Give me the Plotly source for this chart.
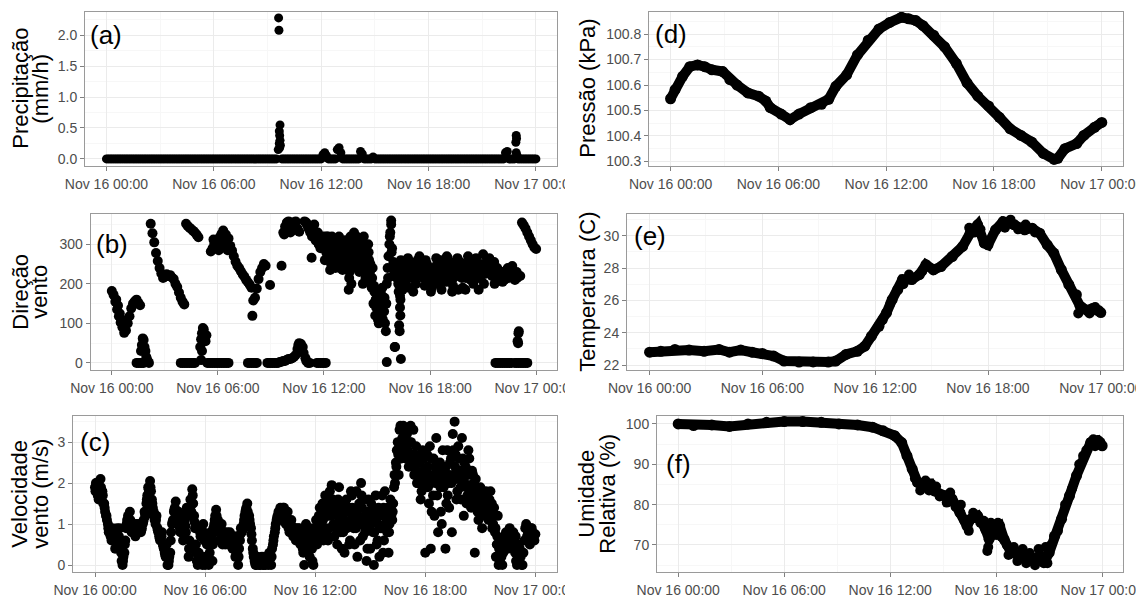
import numpy as np
import pandas as pd
import plotly.graph_objects as go

# ---------------- data ----------------
T0 = pd.Timestamp("2015-11-16 00:00")

# sampling grids (hours after Nov 16 00:00)
grid_a = np.round(np.arange(0.0, 24.0001, 0.1), 3)     # 241 samples
grid_b = np.round(np.arange(0.05, 23.96, 0.1), 3)      # 240 samples
grid_c0 = np.round(np.arange(0.025, 10.95, 0.1), 3)    # 110 samples
grid_c = np.round(np.arange(11.025, 22.95, 0.1), 3)    # 120 samples

# (a) precipitation (mm/h) on grid_a
a_rain = [
    0, 0, 0, 0, 0, 0, 0, 0, 0, 0,
    0, 0, 0, 0, 0, 0, 0, 0, 0, 0,
    0, 0, 0, 0, 0, 0, 0, 0, 0, 0,
    0, 0, 0, 0, 0, 0, 0, 0, 0, 0,
    0, 0, 0, 0, 0, 0, 0, 0, 0, 0,
    0, 0, 0, 0, 0, 0, 0, 0, 0, 0,
    0, 0, 0, 0, 0, 0, 0, 0, 0, 0,
    0, 0, 0, 0, 0, 0, 0, 0, 0, 0,
    0, 0, 0, 0, 0, 0, 0, 0, 0, 0,
    0, 0, 0, 0, 0, 0, 0.15, 0.55, 0, 0,
    0, 0, 0, 0, 0, 0, 0, 0, 0, 0,
    0, 0, 0, 0, 0, 0, 0, 0, 0, 0,
    0, 0.07, 0.1, 0.05, 0, 0, 0, 0, 0, 0.15,
    0.18, 0.1, 0, 0, 0, 0, 0, 0, 0, 0,
    0, 0, 0.12, 0.08, 0, 0, 0, 0, 0, 0.03,
    0, 0, 0, 0, 0, 0, 0, 0, 0, 0,
    0, 0, 0, 0, 0, 0, 0, 0, 0, 0,
    0, 0, 0, 0, 0, 0, 0, 0, 0, 0,
    0, 0, 0, 0, 0, 0, 0, 0, 0, 0,
    0, 0, 0, 0, 0, 0, 0, 0, 0, 0,
    0, 0, 0, 0, 0, 0, 0, 0, 0, 0,
    0, 0, 0, 0, 0, 0, 0, 0, 0, 0,
    0, 0, 0, 0.1, 0.12, 0, 0, 0, 0, 0.38,
    0, 0, 0, 0, 0, 0, 0, 0, 0, 0,
    0,
]
a_spike_hours = [9.62, 9.64, 9.66, 9.68, 9.70, 9.72, 9.66, 9.68, 22.88, 22.92, 22.95, 22.90]
a_spike_rain = [2.28, 2.08, 0.45, 0.38, 0.30, 0.22, 0.25, 0.18, 0.27, 0.33, 0.05, 0.10]

# (b) wind direction (degrees) on grid_a
b_dir = [
    182, 172, 155, 135, 118, 102, 90, 76, 82, 100,
    118, 138, 150, 156, 160, 152, 146, 45, 58, 30,
    8, 0, 352, 328, 305, 278, 258, 240, 226, 215,
    218, 224, 220, 222, 216, 212, 200, 192, 178, 165,
    155, 148, 352, 346, 342, 338, 334, 330, 324, 318,
    40, 75, 85, 55, 0, 0, 282, 290, 302, 310,
    305, 318, 326, 335, 312, 300, 315, 296, 284, 270,
    256, 246, 240, 232, 224, 218, 210, 204, 198, 190,
    158, 165, 188, 212, 230, 240, 250, 246, 0, 0,
    0, 0, 0, 0, 0, 2, 3, 330, 345, 355,
    358, 355, 350, 355, 358, 340, 332, 48, 40, 358,
    355, 345, 335, 330, 340, 320, 310, 300, 290, 305,
    320, 290, 270, 300, 250, 290, 310, 260, 295, 240,
    300, 270, 310, 250, 185, 320, 280, 330, 250, 300,
    230, 310, 200, 280, 250, 300, 230, 190, 150, 120,
    170, 100, 140, 190, 130, 80, 240, 300, 350, 220,
    40, 250, 200, 140, 220, 250, 205, 240, 190, 255,
    215, 245, 200, 260, 270, 220, 245, 195, 235, 210,
    240, 190, 225, 200, 250, 215, 260, 205, 245, 220,
    265, 210, 250, 195, 240, 225, 185, 255, 215, 245,
    185, 230, 260, 210, 245, 225, 265, 215, 250, 230,
    275, 225, 255, 235, 250, 220, 245, 230, 240, 210,
    215, 205, 210, 220, 240, 235, 225, 215, 210, 230,
    75, 220, 355, 348, 340, 330, 320, 310, 300, 292,
    288,
]
# (b) denser part of the cloud, 11:00-23:00 on grid_c
b_dir_fill = [
    350, 340, 330, 320, 335, 310, 325, 300, 310, 295,
    305, 280, 320, 265, 300, 275, 290, 250, 310, 270,
    280, 255, 300, 270, 215, 295, 260, 310, 275, 240,
    290, 255, 265, 300, 235, 280, 250, 215, 195, 160,
    140, 125, 175, 110, 165, 150, 215, 320, 280, 255,
    230, 215, 180, 160, 235, 215, 225, 255, 215, 230,
    230, 220, 250, 235, 240, 245, 215, 220, 250, 225,
    205, 215, 240, 225, 230, 240, 235, 225, 230, 205,
    240, 230, 225, 215, 255, 240, 220, 230, 240, 225,
    215, 245, 235, 225, 230, 250, 240, 230, 215, 240,
    250, 240, 230, 250, 235, 230, 255, 240, 220, 225,
    225, 215, 230, 235, 225, 220, 235, 230, 220, 215,
]
b_extra_hours = [
    0.25, 0.35, 0.45, 0.55, 1.4, 1.5, 1.6, 1.7, 1.8, 1.65,
    1.75, 1.85, 1.95, 2.05, 3.9, 4.0, 4.1, 4.2, 4.3, 4.4,
    4.5, 4.6, 4.7, 5.05, 5.05, 5.15, 5.25, 5.35, 5.1, 5.6,
    5.7, 5.8, 5.9, 6.0, 6.1, 6.2, 6.3, 6.4, 6.5, 6.6,
    5.75, 6.05, 6.25, 6.45, 6.55, 7.95, 8.95, 9.6, 7.7, 7.8,
    7.9, 8.0, 8.1, 8.2, 9.7, 9.8, 9.9, 10.0, 10.1, 10.2,
    10.3, 10.4, 10.5, 10.55, 10.6, 10.65, 10.85, 10.95, 11.0, 11.1,
    11.2, 11.6, 11.7, 11.8, 11.9, 12.0, 12.1, 9.75, 10.1, 10.25,
    11.3, 11.45, 11.65, 11.85, 12.05, 12.15, 12.35, 12.45, 12.65, 12.85,
    13.05, 13.25, 13.45, 13.55, 13.65, 13.85, 14.05, 14.15, 14.25, 14.35,
    14.45, 14.55, 14.65, 14.75, 14.85, 14.95, 15.05, 15.15, 15.25, 15.35,
    15.45, 15.55, 15.65, 15.75, 15.8, 15.85, 15.95, 16.05, 16.25, 16.28,
    16.3, 16.32, 16.35, 16.35, 15.55, 16.02, 16.45, 16.75, 17.05, 17.45,
    17.75, 18.05, 18.35, 18.65, 18.95, 19.25, 19.55, 19.85, 20.15, 20.45,
    20.75, 21.05, 21.35, 21.65, 21.95, 22.15, 22.45, 22.65, 21.7, 21.8,
    21.9, 22.0, 22.1, 22.2, 22.3, 22.4, 22.5, 22.6, 22.8, 22.9,
    23.0, 23.1, 23.2, 23.3, 23.4, 23.5, 22.98, 23.02, 22.95,
]
b_extra_dir = [
    160, 145, 125, 110, 0, 0, 0, 0, 0, 30,
    62, 40, 15, 3, 0, 0, 0, 0, 0, 0,
    0, 0, 0, 7, 60, 88, 65, 70, 30, 0,
    0, 0, 0, 0, 0, 0, 0, 0, 0, 0,
    312, 285, 300, 325, 285, 119, 197, 246, 0, 0,
    0, 0, 0, 0, 5, 5, 8, 10, 10, 12,
    15, 20, 35, 45, 50, 46, 25, 12, 5, 0,
    0, 0, 0, 0, 0, 0, 0, 325, 330, 335,
    266, 350, 330, 320, 260, 320, 235, 320, 240, 320,
    235, 290, 230, 200, 240, 320, 270, 240, 320, 215,
    270, 260, 200, 240, 180, 140, 110, 160, 120, 150,
    100, 200, 270, 330, 360, 290, 240, 230, 95, 80,
    170, 120, 10, 260, 2, 40, 185, 265, 180, 250,
    260, 180, 265, 185, 270, 180, 265, 190, 270, 200,
    185, 200, 265, 200, 230, 230, 215, 245, 0, 0,
    0, 0, 0, 0, 0, 0, 0, 0, 0, 0,
    0, 0, 0, 0, 0, 0, 50, 80, 55,
]

# (c) wind speed (m/s) on grid_a, grid_b, grid_c0 and grid_c
c_speed = [
    1.9, 2.0, 1.6, 2.1, 1.8, 1.5, 1.2, 1.0, 0.9, 0.6,
    0.8, 0.4, 0.9, 0.7, 0.5, 0.0, 0.3, 0.9, 1.2, 1.3,
    0.8, 1.0, 0.7, 0.9, 1.0, 0.8, 1.0, 1.3, 1.5, 1.9,
    2.05, 1.6, 1.3, 1.0, 0.9, 0.7, 0.6, 0.5, 0.3, 0.5,
    0.0, 0.3, 1.0, 1.3, 1.55, 1.2, 1.0, 0.9, 0.6, 1.1,
    1.4, 0.2, 1.6, 1.85, 1.2, 0.5, 0.0, 0.9, 0.2, 1.0,
    0.0, 0.5, 0.0, 0.8, 0.1, 1.0, 1.35, 1.1, 0.8, 1.0,
    0.7, 0.5, 0.8, 0.6, 0.7, 0.4, 0.7, 0.3, 0.0, 0.6,
    0.8, 1.0, 1.3, 1.5, 1.2, 0.9, 0.4, 0.1, 0.0, 0.1,
    0.0, 0.2, 0.0, 0.0, 0.1, 0.3, 0.0, 0.5, 0.8, 1.1,
    1.3, 1.4, 1.2, 1.4, 1.0, 1.3, 0.8, 1.1, 0.7, 0.9,
    0.6, 0.8, 0.5, 0.8, 0.0, 1.0, 0.6, 0.2, 0.8, 0.0,
    0.9, 0.5, 1.2, 0.7, 1.5, 0.9, 1.3, 0.6, 1.8, 1.95,
    1.0, 1.5, 0.5, 1.9, 0.8, 1.2, 0.3, 1.6, 1.0, 0.6,
    1.7, 0.9, 1.3, 0.2, 1.5, 2.0, 0.7, 1.2, 0.1, 1.6,
    0.4, 1.1, 0.0, 1.7, 0.6, 0.2, 1.3, 0.3, 1.8, 1.1,
    0.3, 1.6, 1.1, 1.9, 2.5, 3.0, 3.3, 2.6, 3.4, 2.9,
    3.2, 2.4, 3.4, 2.7, 2.2, 2.9, 2.0, 2.5, 1.8, 2.3,
    0.3, 2.7, 1.5, 0.4, 2.2, 1.2, 3.1, 0.8, 2.5, 1.0,
    1.9, 0.4, 2.8, 1.4, 2.6, 3.2, 3.5, 1.6, 2.9, 2.1,
    3.1, 1.2, 2.4, 1.7, 2.6, 1.4, 2.2, 0.3, 1.8, 1.1,
    1.9, 0.9, 1.6, 1.8, 1.4, 1.6, 1.3, 1.0, 0.8, 0.5,
    0.0, 0.3, 0.0, 0.6, 0.8, 0.4, 0.9, 0.6, 0.8, 0.3,
    0.0, 0.5, 0.2, 0.0, 0.6, 1.0, 0.8, 0.5, 0.9, 0.7,
    0.75,
]
c_speed_b = [
    2.0, 1.7, 1.9, 1.6, 1.5, 1.3, 1.1, 0.8, 0.7, 0.9,
    0.6, 0.8, 0.5, 0.9, 0.1, 0.2, 0.6, 1.1, 0.9, 1.0,
    0.9, 0.8, 1.0, 0.8, 0.9, 0.9, 1.1, 1.2, 1.7, 1.8,
    1.8, 1.4, 1.1, 1.2, 0.8, 0.6, 0.8, 0.4, 0.2, 0.0,
    0.2, 0.8, 1.1, 1.4, 1.1, 1.3, 0.8, 1.2, 0.9, 0.8,
    1.2, 0.6, 1.3, 1.5, 0.9, 0.1, 0.3, 0.7, 0.0, 0.6,
    0.2, 0.7, 0.3, 0.6, 0.9, 1.2, 1.0, 0.6, 0.9, 0.5,
    0.8, 0.6, 0.5, 0.8, 0.5, 0.6, 0.2, 0.5, 0.4, 0.9,
    0.9, 1.2, 1.4, 1.1, 1.0, 0.6, 0.2, 0.0, 0.2, 0.0,
    0.1, 0.0, 0.2, 0.1, 0.0, 0.2, 0.4, 0.7, 1.0, 1.2,
    1.2, 1.1, 1.4, 1.2, 1.1, 0.9, 1.0, 0.8, 0.9, 0.6,
    0.9, 0.6, 0.7, 0.3, 0.6, 0.8, 0.4, 0.6, 0.1, 0.5,
    1.1, 0.7, 1.4, 1.0, 0.6, 1.7, 1.2, 0.9, 1.4, 1.6,
    0.7, 1.3, 1.6, 1.1, 0.4, 1.5, 1.0, 1.3, 0.5, 1.8,
    1.2, 0.5, 1.8, 1.0, 0.6, 1.4, 1.6, 0.9, 0.4, 1.2,
    1.5, 0.8, 1.2, 0.5, 1.4, 0.9, 1.7, 0.6, 1.0, 1.4,
    1.0, 1.2, 1.5, 2.0, 2.8, 2.2, 3.4, 3.1, 2.7, 3.3,
    2.8, 3.0, 2.6, 3.3, 2.5, 2.0, 2.6, 1.6, 2.8, 2.0,
    2.3, 1.9, 2.9, 1.3, 2.6, 2.0, 1.7, 2.4, 1.3, 2.8,
    2.3, 1.5, 2.0, 2.5, 0.8, 2.2, 2.7, 1.8, 2.3, 1.6,
    2.6, 2.0, 1.5, 2.8, 1.9, 2.3, 1.6, 2.1, 1.3, 1.5,
    1.3, 1.7, 1.2, 1.5, 1.1, 1.8, 0.9, 1.4, 0.2, 1.2,
    0.1, 0.2, 0.3, 0.4, 0.6, 0.7, 0.5, 0.4, 0.6, 0.1,
    0.2, 0.4, 0.0, 0.3, 0.9, 0.7, 0.6, 0.9, 0.8, 0.6,
]
c_speed_c0 = [
    1.8, 1.9, 1.8, 1.9, 1.7, 1.4, 1.2, 0.9, 0.8, 0.8,
    0.7, 0.6, 0.7, 0.6, 0.3, 0.1, 0.5, 1.0, 1.1, 1.1,
    0.9, 0.9, 0.85, 0.9, 0.95, 0.85, 1.05, 1.25, 1.6, 1.85,
    1.9, 1.5, 1.2, 1.1, 0.85, 0.65, 0.7, 0.45, 0.25, 0.25,
    0.1, 0.6, 1.05, 1.35, 1.3, 1.25, 0.9, 1.0, 0.75, 0.95,
    1.3, 0.4, 1.45, 1.7, 1.05, 0.3, 0.15, 0.8, 0.1, 0.8,
    0.1, 0.6, 0.15, 0.7, 0.5, 1.1, 1.2, 0.8, 0.85, 0.75,
    0.75, 0.55, 0.65, 0.7, 0.6, 0.5, 0.45, 0.4, 0.2, 0.75,
    0.85, 1.1, 1.35, 1.3, 1.1, 0.75, 0.3, 0.05, 0.1, 0.05,
    0.05, 0.1, 0.1, 0.05, 0.05, 0.25, 0.2, 0.6, 0.9, 1.15,
    1.25, 1.25, 1.3, 1.3, 1.05, 1.1, 0.9, 0.95, 0.8, 0.75,
]
c_speed_c = [
    0.7, 0.9, 0.6, 0.4, 0.9, 0.7, 0.5, 0.9, 0.4, 0.7,
    0.7, 1.0, 0.9, 1.2, 1.1, 1.3, 0.8, 1.5, 1.2, 1.6,
    1.3, 0.9, 1.2, 1.4, 1.0, 0.8, 1.4, 0.9, 1.4, 1.1,
    1.4, 1.1, 0.9, 1.2, 1.0, 1.7, 1.1, 0.8, 1.3, 0.9,
    1.0, 1.3, 0.8, 1.1, 1.0, 1.2, 0.9, 1.4, 1.2, 0.8,
    0.8, 1.4, 1.3, 2.2, 2.4, 2.7, 3.0, 2.9, 3.1, 2.6,
    3.0, 2.7, 3.0, 2.4, 2.7, 2.3, 2.2, 2.1, 2.2, 2.6,
    1.9, 2.4, 2.1, 2.6, 1.7, 2.4, 2.2, 2.0, 1.9, 2.2,
    2.1, 2.4, 1.7, 2.2, 2.0, 2.8, 2.4, 2.1, 2.6, 1.9,
    2.2, 2.5, 1.9, 2.2, 2.3, 1.8, 2.0, 1.6, 1.5, 1.8,
    1.6, 1.4, 1.5, 1.2, 1.6, 1.3, 1.5, 1.2, 0.9, 0.7,
    0.4, 0.6, 0.5, 0.7, 0.5, 0.8, 0.7, 0.6, 0.5, 0.7,
]

# (d) pressure (kPa)
d_hours = [0.0, 0.25, 0.67, 1.07, 1.5, 1.9, 2.3, 2.9, 3.3, 3.7, 4.3, 4.9, 5.3, 5.55,
           6.15, 6.65, 7.15, 7.8, 8.4, 8.8, 9.2, 9.8, 10.4, 11.0, 11.6, 12.2, 12.85,
           13.25, 13.65, 14.05, 14.65, 15.25, 15.9, 16.5, 17.1, 17.7, 18.3, 18.9, 19.5,
           20.1, 20.75, 21.35, 21.55, 21.95, 22.6, 23.0, 23.6, 24.0]
d_press = [100.546, 100.582, 100.634, 100.672, 100.679, 100.672, 100.660, 100.653, 100.621,
           100.600, 100.569, 100.556, 100.537, 100.511, 100.486, 100.464, 100.486, 100.511,
           100.524, 100.544, 100.595, 100.640, 100.718, 100.776, 100.820, 100.846, 100.866,
           100.860, 100.853, 100.833, 100.795, 100.750, 100.685, 100.608, 100.556, 100.518,
           100.473, 100.428, 100.402, 100.376, 100.331, 100.308, 100.312, 100.350, 100.370,
           100.402, 100.434, 100.453]

# (e) temperature (C)
e_hours = [0.0, 0.6, 1.35, 2.1, 2.9, 3.7, 4.25, 4.85, 5.45, 6.0, 6.6, 7.15, 7.95, 8.7, 9.5,
           9.9, 10.45, 11.05, 11.45, 11.8, 12.2, 12.6, 12.9, 13.2, 13.45, 13.95, 14.35, 14.7,
           15.1, 15.5, 16.1, 16.65, 17.05, 17.45, 17.8, 18.0, 18.4, 18.8, 19.4, 19.95, 20.35,
           20.75, 21.15, 21.5, 21.9, 22.3, 22.7, 22.9, 23.25, 23.55, 24.0]
e_temp = [22.80, 22.86, 22.97, 22.93, 22.86, 22.97, 22.80, 22.93, 22.80, 22.72, 22.56, 22.25,
          22.19, 22.20, 22.19, 22.25, 22.66, 22.86, 23.17, 23.79, 24.40, 25.23, 26.05, 26.67,
          27.29, 27.29, 27.60, 28.21, 27.90, 28.10, 28.72, 29.34, 30.16, 30.68, 29.55, 29.44,
          30.37, 30.88, 30.68, 30.37, 30.47, 30.16, 29.44, 28.93, 27.90, 26.98, 26.36, 25.64,
          25.40, 25.50, 25.25]
e_extra_hours = [12.4, 12.8, 13.5, 13.8, 14.5, 17.0, 17.3, 17.6, 18.9, 19.2, 19.6, 20.0, 20.5,
                 22.8, 23.0, 23.4, 23.7, 23.9]
e_extra_temp = [24.8, 25.8, 27.0, 27.6, 27.8, 30.5, 30.2, 30.4, 30.5, 31.0, 30.4, 30.7, 30.2,
                25.2, 25.6, 25.2, 25.6, 25.4]

# (f) relative humidity (%)
f_hours = [0.0, 0.87, 1.9, 2.9, 3.95, 5.0, 6.0, 7.05, 8.1, 9.1, 10.15, 11.0, 11.6, 12.25,
           12.65, 12.95, 13.25, 13.55, 13.9, 14.3, 14.5, 15.1, 15.5, 15.95, 16.35, 16.55,
           16.95, 17.4, 17.6, 17.9, 18.2, 18.45, 18.85, 19.45, 20.1, 20.5, 20.7, 21.0, 21.3,
           21.7, 22.15, 22.55, 22.95, 23.35, 23.75, 24.0]
f_rh = [100.0, 99.6, 99.75, 99.4, 100.0, 100.4, 100.6, 100.6, 100.4, 100.0, 99.75, 99.2, 98.3,
        97.1, 95.4, 92.1, 88.8, 85.5, 84.7, 85.1, 83.4, 82.2, 81.4, 78.0, 74.7, 76.4, 77.2,
        73.9, 71.4, 73.9, 74.7, 71.4, 68.1, 67.3, 66.5, 67.3, 65.6, 68.1, 72.2, 76.4, 82.2,
        87.2, 92.1, 95.4, 95.9, 94.6]
f_extra_hours = [13.4, 13.7, 14.0, 14.2, 14.6, 14.8, 15.2, 15.4, 15.7, 16.0,
                 16.2, 16.45, 16.7, 17.1, 17.3, 17.55, 17.5, 17.7, 18.0, 18.1,
                 18.3, 18.6, 18.7, 19.0, 19.2, 19.5, 19.7, 19.9, 20.2, 20.4,
                 20.6, 20.8, 20.9, 21.1, 21.5, 21.9, 22.3, 22.7, 23.1, 23.5,
                 23.6, 23.9]
f_extra_rh = [86.5, 83.5, 86.0, 83.5, 84.5, 82.0, 80.5, 83.0, 79.5, 80.0,
              76.0, 73.5, 78.0, 75.5, 76.0, 69.5, 68.5, 75.5, 72.5, 75.5,
              72.0, 70.0, 67.5, 69.5, 66.0, 69.0, 65.5, 68.0, 65.0, 69.0,
              66.0, 69.5, 65.5, 70.0, 73.5, 80.0, 84.0, 90.0, 93.5, 96.2,
              94.5, 95.5]

panel_tags = ["(a)", "(b)", "(c)", "(d)", "(e)", "(f)"]
tag_values = [2.0, 300, 3, 100.8, 30, 90]
y_title_lines = [["Precipitação", "(mm/h)"], ["Direção", "vento"], ["Velocidade", "vento (m/s)"],
                 ["Pressão (kPa)"], ["Temperatura (C)"], ["Umidade", "Relativa (%)"]]
y_ranges = [[-0.11, 2.38], [-18, 378], [-0.17, 3.65], [100.283, 100.888], [21.7, 31.38], [63.3, 102.1]]
y_dticks = [0.5, 100, 1, 0.1, 2, 10]
y_formats = [".1f", "", "", ".1f", "", ""]

# ---------------- helpers ----------------
def to_time(hours):
    return T0 + pd.to_timedelta(np.asarray(hours, dtype=float), unit="h")

for a, b in [(grid_a, a_rain), (grid_a, b_dir), (grid_c, b_dir_fill), (grid_a, c_speed),
             (grid_b, c_speed_b), (grid_c0, c_speed_c0), (grid_c, c_speed_c),
             (a_spike_hours, a_spike_rain), (b_extra_hours, b_extra_dir), (d_hours, d_press),
             (e_hours, e_temp), (e_extra_hours, e_extra_temp), (f_hours, f_rh),
             (f_extra_hours, f_extra_rh)]:
    assert len(a) == len(b), (len(a), len(b))

W, H = 1136, 598
# panel boxes in pixels: (left, right, top, bottom)
boxes = [
    (85, 557, 11.7, 165.7),
    (90.6, 557, 213.5, 370),
    (73, 557, 415.5, 572),
    (649, 1123, 11.7, 165.7),
    (627, 1123, 213.5, 370),
    (657, 1123, 415.5, 572),
]
title_x = [[21, 41], [21, 40], [20, 41], [588], [588], [587, 608]]
title_y = [88.7, 291.7, 493.7, 88.7, 291.7, 493.7]

fig = go.Figure()

def add(i, hours, vals, mode="markers", lw=0, ms=10):
    ax = "" if i == 0 else str(i + 1)
    kw = dict(x=to_time(hours), y=vals, mode=mode, showlegend=False, hoverinfo="skip",
              xaxis="x" + ax, yaxis="y" + ax, marker=dict(color="black", size=ms))
    if "lines" in mode:
        kw["line"] = dict(color="black", width=lw)
    fig.add_trace(go.Scatter(**kw))

add(0, grid_a, a_rain, ms=9)
add(0, a_spike_hours, a_spike_rain, ms=9)
add(1, grid_a, b_dir)
add(1, grid_c, b_dir_fill)
add(1, b_extra_hours, b_extra_dir)
add(2, grid_a, c_speed)
add(2, grid_b, c_speed_b)
add(2, grid_c0, c_speed_c0)
add(2, grid_c, c_speed_c)
add(3, d_hours, d_press, "lines+markers", 10, 11)
add(4, e_hours, e_temp, "lines+markers", 10, 11)
add(4, e_extra_hours, e_extra_temp, "markers", 0, 10)
add(5, f_hours, f_rh, "lines+markers", 10, 11)
add(5, f_extra_hours, f_extra_rh, "markers", 0, 10)

xr = [str(T0 - pd.Timedelta(hours=1.2)), str(T0 + pd.Timedelta(hours=25.18))]
tickfont = dict(family="Liberation Sans, Arial, sans-serif", size=14, color="#4d4d4d")
layout = dict(width=W, height=H, margin=dict(l=0, r=0, t=0, b=0, pad=0, autoexpand=False),
              paper_bgcolor="white", plot_bgcolor="white", showlegend=False)
annotations = []
shapes = []
for i, (l, r, t, b) in enumerate(boxes):
    ax = "" if i == 0 else str(i + 1)
    layout["xaxis" + ax] = dict(
        type="date", range=xr, domain=[l / W, r / W], anchor="y" + ax, automargin=False,
        tick0=str(T0), dtick=6 * 3600 * 1000, tickformat="%b %d %H:%M",
        showgrid=True, gridcolor="#ebebeb", gridwidth=1,
        minor=dict(dtick=3 * 3600 * 1000, tick0=str(T0), showgrid=True, gridcolor="#f7f7f7"),
        showline=True, mirror=True, linecolor="#9a9a9a", linewidth=1,
        ticks="outside", ticklen=4, tickcolor="#808080", tickfont=tickfont, zeroline=False,
        ticklabeloverflow="allow", ticklabelstandoff=1,
    )
    lo, hi = y_ranges[i]
    layout["yaxis" + ax] = dict(
        range=[lo, hi], domain=[1 - b / H, 1 - t / H], anchor="x" + ax, automargin=False,
        dtick=y_dticks[i], tick0=0, tickformat=y_formats[i],
        showgrid=True, gridcolor="#ebebeb", gridwidth=1,
        minor=dict(dtick=y_dticks[i] / 2, tick0=0, showgrid=True, gridcolor="#f7f7f7"),
        showline=True, mirror=True, linecolor="#9a9a9a", linewidth=1,
        ticks="outside", ticklen=4, tickcolor="#808080", tickfont=tickfont, zeroline=False,
    )
    annotations.append(dict(
        x=str(T0), y=tag_values[i], xref="x" + ax, yref="y" + ax, text=panel_tags[i],
        showarrow=False, xanchor="center", yanchor="middle",
        font=dict(family="Liberation Sans, Arial, sans-serif", size=26, color="black")))
    for line_text, tx in zip(y_title_lines[i], title_x[i]):
        annotations.append(dict(
            x=tx / W, y=1 - title_y[i] / H, xref="paper", yref="paper", text=line_text,
            textangle=-90, showarrow=False, xanchor="center", yanchor="middle",
            font=dict(family="Liberation Sans, Arial, sans-serif", size=22, color="black")))

# the left column's last tick label is cut at the edge of its own plot region
for (y0, y1) in [(170, 197), (373, 400), (575, 598)]:
    shapes.append(dict(type="rect", xref="paper", yref="paper", layer="above",
                       x0=565 / W, x1=578 / W, y0=1 - y1 / H, y1=1 - y0 / H,
                       fillcolor="white", line=dict(width=0)))

layout["annotations"] = annotations
layout["shapes"] = shapes
fig.update_layout(**layout)
fig.write_html("out.html", config={"staticPlot": True, "displayModeBar": False},
               post_script="document.body.style.margin='0px';")
